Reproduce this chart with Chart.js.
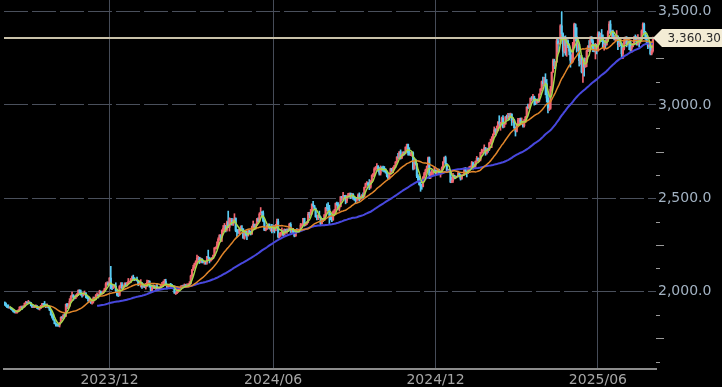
<!DOCTYPE html>
<html><head><meta charset="utf-8">
<script src="https://cdn.jsdelivr.net/npm/chart.js@4.4.1/dist/chart.umd.min.js"></script>
<style>html,body{margin:0;padding:0;background:#000;overflow:hidden}#wrap{width:722px;height:387px;position:relative}</style>
</head><body><div id="wrap"><canvas id="c" width="722" height="387"></canvas></div>
<script>
// first trading day shown (weekdays only), one candle per weekday
const startDate = [2023, 7, 7];
const opens = [
1943,1936,1925,1915,1913, 1914,1907,1902,1892,1889, 1889,1895,1899,1916,1917, 1915,1920,1937,1942,1940,
1940,1939,1926,1916,1920, 1919,1922,1913,1907,1910, 1924,1934,1931,1930,1920, 1925,1915,1901,1875,1864,
1849,1828,1822,1821,1820, 1836,1862,1861,1874,1868, 1932,1920,1923,1947,1974, 1981,1973,1970,1979,1985,
2006,1996,1983,1982,1986, 1992,1977,1967,1950,1958, 1940,1946,1963,1959,1981, 1981,1978,1998,1990,1992,
2002,2014,2041,2044,2036, 2072,2030,2019,2025,2029, 2004,1982,1980,2027,2036, 2019,2027,2040,2031,2045,
2053,2053,2067,2077,2065, 2063,2063,2059,2041,2043, 2045,2028,2030,2024,2029, 2049,2055,2028,2006,2023,
2029,2021,2029,2014,2020, 2018,2032,2037,2039,2054, 2039,2025,2035,2035,2034, 2024,2020,1992,1992,2004,
2013,2017,2024,2026,2024, 2035,2031,2034,2035,2044, 2083,2115,2128,2148,2159, 2178,2182,2158,2175,2162,
2155,2160,2157,2187,2181, 2165,2172,2178,2195,2233, 2233,2251,2280,2300,2291, 2329,2339,2353,2333,2372,
2344,2383,2383,2361,2379, 2392,2327,2322,2316,2332, 2337,2336,2286,2320,2303, 2301,2323,2314,2309,2346,
2360,2336,2358,2386,2377, 2415,2425,2421,2379,2329, 2334,2351,2360,2338,2343, 2327,2350,2326,2355,2375,
2294,2311,2316,2324,2304, 2333,2318,2330,2328,2360, 2322,2334,2320,2298,2327, 2326,2330,2330,2356,2357,
2392,2359,2364,2371,2415, 2411,2422,2469,2459,2445, 2401,2396,2409,2397,2364, 2387,2384,2411,2448,2446,
2443,2409,2390,2383,2427, 2431,2472,2465,2447,2456, 2508,2504,2514,2512,2485, 2512,2518,2525,2504,2521,
2503,2500,2493,2495,2517, 2497,2506,2516,2512,2558, 2578,2582,2570,2559,2587, 2622,2628,2657,2657,2672,
2658,2634,2663,2659,2657, 2653,2643,2622,2608,2630, 2657,2648,2663,2674,2693, 2721,2720,2749,2715,2735,
2747,2743,2774,2788,2744, 2736,2736,2743,2659,2706, 2685,2619,2599,2573,2565, 2563,2613,2632,2651,2670,
2716,2626,2633,2638,2640, 2650,2640,2643,2650,2632, 2633,2660,2694,2718,2681, 2648,2652,2646,2587,2594,
2622,2613,2617,2615,2636, 2621,2606,2624,2624,2658, 2640,2636,2648,2662,2670, 2690,2662,2677,2697,2714,
2702,2708,2745,2755,2755, 2770,2740,2764,2760,2795, 2798,2815,2842,2866,2856, 2861,2908,2898,2905,2929,
2882,2898,2935,2933,2939, 2936,2951,2915,2917,2877, 2858,2893,2918,2920,2910, 2910,2889,2916,2934,2988,
2984,3001,3035,3034,3044, 3022,3011,3020,3019,3057, 3085,3124,3113,3134,3114, 3037,2982,2982,3083,3175,
3237,3210,3230,3343,3327, 3328,3424,3381,3288,3349, 3319,3343,3317,3288,3239, 3241,3334,3431,3366,3306,
3325,3237,3250,3177,3240, 3203,3230,3289,3315,3295, 3358,3342,3300,3288,3318, 3289,3381,3353,3373,3352,
3310,3326,3323,3355,3387, 3433,3385,3389,3370,3368, 3368,3368,3323,3333,3328, 3274,3303,3338,3357,3326,
3337,3336,3302,3313,3324, 3355,3343,3324,3347,3339, 3350,3396,3432,3387,3368, 3337,3314,3326,3274,3290
];
const highs = [
1944,1939,1929,1929,1918, 1916,1911,1904,1898,1894, 1900,1904,1919,1922,1922, 1925,1939,1948,1946,1953,
1946,1942,1929,1924,1926, 1929,1925,1918,1917,1926, 1937,1937,1947,1933,1934, 1926,1919,1904,1880,1880,
1850,1833,1827,1824,1835, 1865,1867,1876,1887,1933, 1937,1936,1962,1978,1997, 1983,1976,1983,1990,2009,
2010,2008,1988,1993,2003, 1994,1979,1970,1965,1960, 1947,1971,1970,1984,1993, 1984,2007,2003,1997,2004,
2018,2048,2052,2052,2075, 2135,2039,2036,2034,2047, 2006,1993,2032,2048,2048, 2032,2047,2047,2049,2070,
2056,2070,2083,2088,2075, 2064,2078,2061,2051,2064, 2048,2042,2040,2044,2062, 2060,2058,2032,2025,2036,
2033,2031,2040,2023,2025, 2037,2049,2056,2065,2066, 2040,2038,2040,2044,2039, 2028,2031,1997,2007,2015,
2022,2031,2033,2035,2041, 2038,2041,2042,2053,2088, 2119,2141,2152,2165,2195, 2189,2184,2180,2175,2168,
2163,2163,2189,2222,2182, 2176,2183,2195,2236,2240, 2266,2288,2305,2305,2330, 2354,2365,2355,2378,2431,
2395,2392,2392,2386,2417, 2395,2333,2333,2340,2352, 2353,2336,2327,2326,2323, 2330,2330,2324,2351,2378,
2362,2362,2392,2395,2422, 2450,2429,2432,2385,2343, 2355,2363,2363,2351,2360, 2354,2353,2360,2388,2388,
2314,2318,2342,2327,2336, 2334,2336,2336,2366,2369, 2335,2339,2324,2330,2338, 2335,2334,2365,2363,2392,
2393,2371,2375,2424,2425, 2440,2469,2483,2462,2448, 2408,2412,2431,2402,2390, 2392,2412,2451,2470,2477,
2462,2420,2398,2432,2440, 2475,2479,2477,2464,2509, 2510,2531,2515,2516,2514, 2526,2528,2528,2526,2525,
2505,2505,2503,2523,2529, 2510,2519,2529,2560,2581, 2589,2584,2600,2595,2625, 2634,2664,2670,2686,2675,
2665,2673,2668,2672,2670, 2659,2645,2626,2636,2661, 2660,2667,2676,2697,2722, 2740,2749,2759,2737,2749,
2749,2775,2790,2790,2771, 2745,2750,2749,2710,2709, 2686,2627,2618,2585,2575, 2616,2639,2656,2673,2721,
2721,2641,2650,2643,2665, 2651,2652,2658,2656,2644, 2668,2696,2721,2726,2687, 2655,2657,2650,2612,2633,
2624,2620,2618,2638,2638, 2627,2625,2627,2662,2665, 2646,2661,2670,2673,2697, 2694,2683,2700,2724,2716,
2712,2746,2763,2760,2786, 2772,2765,2768,2800,2817, 2830,2845,2882,2873,2887, 2911,2942,2907,2935,2943,
2905,2938,2946,2955,2954, 2956,2952,2929,2923,2882, 2898,2928,2928,2930,2930, 2912,2923,2939,2990,3005,
3004,3038,3045,3057,3047, 3034,3029,3033,3060,3087, 3128,3149,3148,3167,3136, 3055,3023,3099,3176,3245,
3245,3233,3357,3357,3330, 3430,3500,3386,3367,3370, 3351,3349,3327,3296,3269, 3335,3438,3435,3414,3345,
3327,3265,3265,3240,3252, 3250,3295,3318,3345,3366, 3366,3350,3326,3330,3325, 3392,3391,3385,3404,3375,
3339,3349,3360,3397,3446, 3452,3398,3401,3372,3374, 3398,3370,3345,3350,3332, 3306,3358,3365,3366,3345,
3342,3345,3318,3330,3368, 3375,3366,3377,3351,3361, 3402,3440,3439,3394,3373, 3345,3334,3334,3315,3363
];
const lows = [
1926,1920,1915,1911,1910, 1904,1899,1890,1885,1884, 1884,1891,1896,1911,1904, 1913,1917,1934,1936,1937,
1937,1923,1915,1914,1914, 1916,1908,1905,1901,1909, 1921,1926,1927,1913,1916, 1912,1898,1873,1858,1846,
1827,1815,1815,1813,1810, 1834,1853,1857,1866,1867, 1908,1910,1921,1942,1968, 1953,1960,1962,1971,1978,
1990,1980,1970,1976,1985, 1966,1962,1947,1944,1936, 1932,1938,1956,1956,1975, 1965,1976,1986,1986,1988,
2000,2010,2035,2031,2033, 2014,2010,2016,2023,1995, 1976,1973,1976,2020,2015, 2015,2022,2026,2030,2040,
2050,2048,2063,2061,2058, 2060,2056,2031,2036,2024, 2017,2023,2021,2013,2027, 2046,2023,2002,2004,2016,
2016,2011,2014,2009,2011, 2013,2030,2026,2035,2031, 2014,2022,2026,2025,2019, 2014,1990,1984,1988,1995,
2011,2014,2020,2020,2022, 2025,2028,2025,2032,2041, 2078,2114,2124,2142,2154, 2170,2150,2156,2154,2153,
2146,2146,2146,2172,2153, 2162,2170,2175,2193,2228, 2229,2247,2274,2267,2268, 2321,2325,2319,2323,2342,
2324,2356,2356,2354,2367, 2320,2291,2311,2305,2325, 2325,2286,2280,2297,2278, 2297,2309,2303,2306,2340,
2333,2335,2353,2373,2376, 2412,2407,2374,2326,2325, 2333,2340,2334,2323,2314, 2321,2314,2325,2354,2287,
2286,2296,2302,2300,2302, 2312,2311,2322,2327,2316, 2317,2315,2293,2296,2318, 2318,2319,2327,2351,2353,
2350,2353,2358,2367,2395, 2410,2415,2454,2441,2398, 2384,2385,2397,2353,2362, 2375,2380,2402,2433,2423,
2364,2384,2375,2382,2414, 2420,2461,2440,2431,2454, 2488,2492,2498,2470,2476, 2505,2506,2498,2501,2493,
2488,2472,2483,2490,2485, 2493,2500,2500,2508,2557, 2574,2563,2546,2553,2585, 2614,2620,2650,2655,2644,
2624,2624,2648,2643,2640, 2634,2614,2604,2603,2626, 2642,2637,2656,2665,2690, 2710,2714,2709,2713,2727,
2731,2737,2764,2730,2730, 2728,2725,2652,2655,2677, 2610,2589,2570,2537,2548, 2561,2605,2623,2641,2666,
2605,2605,2621,2623,2636, 2623,2631,2634,2625,2613, 2630,2656,2692,2678,2644, 2643,2639,2583,2583,2584,
2603,2611,2613,2614,2614, 2597,2601,2621,2624,2638, 2614,2631,2643,2657,2663, 2656,2662,2666,2693,2700,
2695,2700,2740,2742,2753, 2730,2736,2745,2755,2789, 2771,2808,2840,2834,2853, 2860,2882,2864,2903,2876,
2880,2896,2921,2925,2919, 2930,2890,2906,2874,2833, 2855,2892,2893,2895,2896, 2880,2881,2905,2932,2978,
2983,2999,3023,3028,2999, 3001,3007,3012,3015,3054, 3076,3100,3105,3054,3015, 2957,2970,2976,3073,3175,
3194,3206,3228,3283,3325, 3327,3367,3260,3278,3266, 3260,3307,3268,3202,3223, 3229,3317,3342,3283,3290,
3208,3217,3171,3120,3154, 3202,3205,3285,3286,3287, 3334,3285,3284,3246,3273, 3288,3334,3344,3339,3307,
3293,3302,3319,3341,3384, 3381,3366,3362,3348,3341, 3347,3296,3312,3317,3255, 3247,3295,3329,3311,3322,
3296,3287,3283,3311,3322, 3341,3320,3320,3310,3330, 3344,3383,3381,3351,3325, 3301,3308,3268,3268,3282
];
const closes = [
1936,1925,1915,1913,1914, 1907,1902,1892,1889,1889, 1895,1899,1916,1917,1915, 1920,1937,1942,1940,1940,
1939,1926,1916,1920,1919, 1922,1913,1907,1910,1924, 1934,1931,1930,1920,1925, 1915,1901,1875,1864,1849,
1828,1822,1821,1820,1833, 1862,1861,1874,1868,1932, 1920,1923,1947,1974,1981, 1973,1970,1979,1985,2006,
1996,1983,1982,1986,1992, 1977,1967,1950,1958,1940, 1946,1963,1959,1981,1981, 1978,1998,1990,1992,2002,
2014,2041,2044,2036,2072, 2030,2019,2025,2029,2004, 1982,1980,2027,2036,2019, 2027,2040,2031,2045,2053,
2053,2067,2077,2065,2063, 2063,2059,2041,2043,2045, 2028,2030,2024,2029,2049, 2055,2028,2006,2023,2029,
2021,2029,2014,2020,2018, 2032,2037,2039,2054,2039, 2025,2035,2035,2034,2024, 2020,1992,1992,2004,2013,
2017,2024,2026,2024,2035, 2031,2034,2035,2044,2083, 2115,2128,2148,2159,2178, 2182,2158,2175,2162,2155,
2160,2157,2187,2181,2165, 2172,2178,2195,2233,2233, 2251,2280,2300,2291,2329, 2339,2353,2333,2372,2344,
2383,2383,2361,2379,2392, 2327,2322,2316,2332,2337, 2336,2286,2320,2303,2301, 2323,2314,2309,2346,2360,
2336,2358,2386,2377,2415, 2425,2421,2379,2329,2334, 2351,2360,2338,2343,2327, 2350,2326,2355,2375,2294,
2311,2316,2324,2304,2333, 2318,2330,2328,2360,2322, 2334,2320,2298,2327,2326, 2330,2330,2356,2357,2392,
2359,2364,2371,2415,2411, 2422,2469,2459,2445,2401, 2396,2409,2397,2364,2387, 2384,2411,2448,2446,2443,
2409,2390,2383,2427,2431, 2472,2465,2447,2456,2508, 2504,2514,2512,2485,2512, 2518,2525,2504,2521,2503,
2500,2493,2495,2517,2497, 2506,2516,2512,2558,2578, 2582,2570,2559,2587,2622, 2628,2657,2657,2672,2658,
2634,2663,2659,2657,2653, 2643,2622,2608,2630,2657, 2648,2663,2674,2693,2721, 2720,2749,2715,2735,2747,
2743,2774,2788,2744,2736, 2736,2743,2659,2706,2685, 2619,2599,2573,2565,2563, 2613,2632,2651,2670,2716,
2626,2633,2638,2640,2650, 2640,2643,2650,2632,2633, 2660,2694,2718,2681,2648, 2652,2646,2587,2594,2622,
2613,2617,2615,2636,2621, 2606,2624,2624,2658,2640, 2636,2648,2662,2670,2690, 2662,2677,2697,2714,2702,
2708,2745,2755,2755,2770, 2740,2764,2760,2795,2798, 2815,2842,2866,2856,2861, 2908,2898,2905,2929,2882,
2898,2935,2933,2939,2936, 2951,2915,2917,2877,2858, 2893,2918,2920,2910,2910, 2889,2916,2934,2988,2984,
3001,3035,3034,3044,3022, 3011,3020,3019,3057,3085, 3124,3113,3134,3114,3037, 2982,2982,3083,3175,3237,
3210,3230,3343,3327,3328, 3424,3381,3288,3349,3319, 3343,3317,3288,3239,3241, 3334,3431,3366,3306,3325,
3237,3250,3177,3240,3203, 3230,3289,3315,3295,3358, 3342,3300,3288,3318,3289, 3381,3353,3373,3352,3310,
3326,3323,3355,3387,3433, 3385,3389,3370,3368,3368, 3368,3323,3333,3328,3274, 3303,3338,3357,3326,3337,
3336,3302,3313,3324,3355, 3343,3324,3347,3339,3350, 3396,3432,3387,3368,3337, 3314,3326,3274,3290,3360.3
];
const lastPrice = 3360.30;
const yTickValues = [2000, 2500, 3000, 3500];
const xTickLabels = ['2023/12', '2024/06', '2024/12', '2025/06'];
const maPeriods = [5, 25, 75];

// ---- derived ----
const N = closes.length;
const tradingDays = [];
{
  const d = new Date(Date.UTC(startDate[0], startDate[1], startDate[2]));
  while (tradingDays.length < N) {
    const wd = d.getUTCDay();
    if (wd !== 0 && wd !== 6) {
      tradingDays.push(d.getUTCFullYear() + '/' + String(d.getUTCMonth() + 1).padStart(2, '0') + '/' + String(d.getUTCDate()).padStart(2, '0'));
    }
    d.setUTCDate(d.getUTCDate() + 1);
  }
}
const xTickIndex = xTickLabels.map(l => tradingDays.findIndex(s => s.startsWith(l)));

function sma(p) {
  return closes.map((_, i) => {
    if (i < p - 1) return { x: i, y: null };
    let s = 0;
    for (let k = i - p + 1; k <= i; k++) s += closes[k];
    return { x: i, y: s / p };
  });
}

const UP = '#f26670', DOWN = '#58ccf4';
const colorOf = i => closes[i] >= opens[i] ? UP : DOWN;
const maColors = ['#a6d84a', '#e2862a', '#4848de'];
const maWidths = [1.5, 1.5, 2];

Chart.defaults.font.family = '"DejaVu Sans", Verdana, sans-serif';

const overlay = {
  id: 'overlay',
  afterDatasetsDraw(chart) {
    const { ctx, chartArea: a, scales: { y } } = chart;
    const py = Math.round(y.getPixelForValue(lastPrice));
    ctx.save();
    ctx.strokeStyle = '#c9c1a9';
    ctx.lineWidth = 2;
    ctx.beginPath(); ctx.moveTo(a.left, py); ctx.lineTo(a.right, py); ctx.stroke();
    ctx.restore();
  },
  afterDraw(chart) {
    const { ctx, chartArea: a, scales: { y } } = chart;
    ctx.save();
    ctx.strokeStyle = '#9a9a9a';
    ctx.lineWidth = 1;
    const step = 125;
    for (let v = Math.ceil(y.min / step) * step; v <= y.max; v += step) {
      if (v % 500 === 0) continue;
      const len = (v % 250 === 0) ? 8 : 4;
      const py = Math.round(y.getPixelForValue(v)) + 0.5;
      ctx.beginPath(); ctx.moveTo(a.right, py); ctx.lineTo(a.right + len, py); ctx.stroke();
    }
    // price tag
    const py = Math.round(y.getPixelForValue(lastPrice));
    const x0 = a.right - 3, h = 18;
    ctx.fillStyle = '#f3ecd5';
    ctx.beginPath();
    ctx.moveTo(x0, py);
    ctx.lineTo(x0 + 9, py - h / 2);
    ctx.lineTo(chart.width, py - h / 2);
    ctx.lineTo(chart.width, py + h / 2);
    ctx.lineTo(x0 + 9, py + h / 2);
    ctx.closePath();
    ctx.fill();
    ctx.fillStyle = '#2a2a2a';
    ctx.font = '12px "DejaVu Sans", Verdana, sans-serif';
    ctx.textBaseline = 'middle';
    ctx.textAlign = 'right';
    ctx.fillText(lastPrice.toLocaleString('en-US', { minimumFractionDigits: 2, maximumFractionDigits: 2 }), chart.width - 1, py + 1);
    ctx.restore();
  }
};

const datasets = [];
maPeriods.forEach((p, k) => datasets.push({
  type: 'line', label: 'MA' + p, data: sma(p), borderColor: maColors[k], borderWidth: maWidths[k],
  pointRadius: 0, tension: 0, order: k, spanGaps: false
}));
datasets.push({
  type: 'bar', label: 'wick', data: closes.map((c, i) => ({ x: i, y: [lows[i], highs[i]] })),
  backgroundColor: ctx => colorOf(ctx.dataIndex), barThickness: 1, grouped: false, order: 6, borderWidth: 0
});
datasets.push({
  type: 'bar', label: 'body', data: closes.map((c, i) => ({ x: i, y: [opens[i], c] })),
  backgroundColor: ctx => colorOf(ctx.dataIndex), barThickness: 1.4, grouped: false, order: 5, borderWidth: 0
});

new Chart(document.getElementById('c'), {
  type: 'bar',
  data: { datasets },
  plugins: [overlay],
  options: {
    responsive: false, animation: false, devicePixelRatio: 1,
    layout: { padding: { left: 4, top: 0, right: 0, bottom: 0 } },
    plugins: { legend: { display: false }, tooltip: { enabled: false } },
    scales: {
      x: {
        type: 'linear', min: -0.5, max: N + 1.5, offset: false,
        afterBuildTicks: s => { s.ticks = xTickIndex.map(v => ({ value: v })); },
        afterFit: s => { s.height = 18; s.paddingLeft = 0; s.paddingRight = 0; },
        grid: { color: '#464c58', lineWidth: 1, drawTicks: false, offset: false },
        border: { display: true, color: '#8c8c8c', width: 2 },
        ticks: {
          color: '#a6a6a6', font: { size: 14 }, padding: 3, maxRotation: 0, autoSkip: false,
          callback: v => xTickLabels[xTickIndex.indexOf(v)] || ''
        }
      },
      y: {
        type: 'linear', position: 'right', min: 1585, max: 3562,
        afterBuildTicks: s => { s.ticks = yTickValues.map(v => ({ value: v })); },
        afterFit: s => { s.width = 66; s.paddingTop = 0; s.paddingBottom = 0; },
        grid: { color: '#4a505c', lineWidth: 1, drawTicks: false },
        border: { display: false, dash: [24, 4] },
        ticks: {
          color: '#a2b2c2', font: { size: 14 }, padding: 2,
          callback: v => v.toLocaleString('en-US', { minimumFractionDigits: 1, maximumFractionDigits: 1 })
        }
      }
    }
  }
});
</script>
</body></html>
